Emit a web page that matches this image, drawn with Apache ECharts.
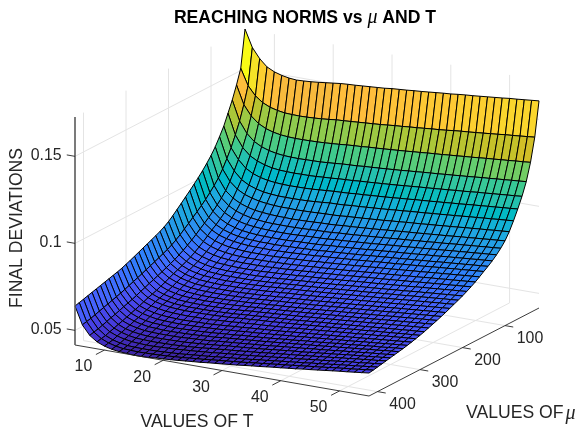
<!DOCTYPE html>
<html>
<head>
<meta charset="utf-8">
<style>html,body{margin:0;padding:0;background:#fff}#c{width:579px;height:430px}</style>
<script src="https://cdn.jsdelivr.net/npm/echarts@6/dist/echarts.min.js"></script>
</head>
<body>
<div id="c"></div>
<script>
const tValues=[5,6.25,7.5,8.75,10,11.25,12.5,13.75,15,16.25,17.5,18.75,20,21.25,22.5,23.75,25,26.25,27.5,28.75,30,31.25,32.5,33.75,35,36.25,37.5,38.75,40,41.25,42.5,43.75,45,46.25,47.5,48.75,50,51.25,52.5,53.75,55];
const muValues=[20,30,40,50,60,70,80,90,100,110,120,130,140,150,160,170,180,190,200,210,220,230,240,250,260,270,280,290,300,310,320,330,340,350,360,370,380,390,400,410,420];
const tTicks=[10,20,30,40,50];
const muTicks=[100,200,300,400];
const zTicks=[0.05,0.1,0.15];
const zTickLabels=['0.05','0.1','0.15'];
// final deviations, in units of 1e-4 (rows: mu, columns: T)
const deviationsE4=[
[1718,1619,1562,1522,1501,1488,1480,1476,1478,1481,1485,1490,1495,1500,1503,1505,1508,1511,1514,1517,1522,1525,1528,1532,1535,1539,1543,1547,1550,1555,1559,1562,1566,1570,1574,1578,1583,1586,1590,1594,1598],
[1505,1412,1361,1329,1310,1299,1292,1290,1289,1290,1292,1295,1299,1304,1306,1309,1312,1315,1318,1321,1325,1329,1332,1336,1339,1343,1347,1350,1354,1359,1363,1366,1370,1374,1378,1382,1387,1390,1394,1398,1402],
[1422,1316,1258,1222,1200,1187,1179,1175,1173,1173,1174,1175,1177,1180,1183,1187,1190,1192,1196,1198,1201,1204,1207,1210,1214,1217,1221,1224,1227,1231,1234,1238,1241,1245,1249,1252,1256,1259,1263,1266,1270],
[1348,1234,1170,1131,1108,1094,1085,1080,1078,1077,1078,1079,1080,1083,1086,1090,1092,1094,1098,1100,1103,1106,1109,1112,1116,1119,1123,1126,1129,1133,1136,1140,1143,1147,1151,1154,1158,1161,1165,1168,1172],
[1285,1167,1102,1062,1039,1024,1014,1009,1007,1006,1007,1007,1009,1012,1014,1018,1020,1022,1026,1028,1031,1034,1037,1040,1044,1047,1051,1054,1057,1061,1064,1068,1071,1075,1079,1082,1086,1089,1093,1096,1100],
[1223,1106,1045,1003,979,964,955,950,947,946,947,947,949,952,955,958,960,962,966,968,971,974,977,980,984,987,991,994,997,1001,1004,1008,1011,1015,1019,1022,1026,1029,1033,1036,1040],
[1175,1056,993,950,926,911,901,896,893,892,892,893,894,897,900,904,905,907,911,913,916,919,922,925,929,932,936,939,942,946,949,953,956,960,964,967,971,974,978,981,985],
[1130,1009,945,908,885,871,861,855,851,849,849,848,849,850,852,854,855,857,861,863,866,869,872,875,879,882,886,889,892,896,899,903,906,910,914,917,921,924,928,931,935],
[1092,970,905,869,846,831,821,816,812,810,809,808,809,810,812,814,815,817,821,823,826,829,832,835,839,842,846,849,852,856,859,863,866,870,874,877,881,884,888,891,895],
[1060,939,875,838,815,801,791,785,781,779,779,778,779,780,782,784,785,787,791,793,796,799,802,805,809,812,816,819,822,826,829,833,836,840,844,847,851,854,858,861,865],
[1030,911,848,811,789,775,765,760,756,754,753,753,753,755,757,759,760,762,766,768,771,774,777,780,784,787,791,794,797,801,804,808,811,815,819,822,826,829,833,836,840],
[1003,885,824,788,766,752,742,737,733,731,731,731,731,733,735,736,738,740,744,746,749,752,755,758,762,765,769,772,775,779,782,786,789,793,797,800,804,807,811,814,818],
[978,862,801,767,746,732,722,717,714,712,712,711,712,714,715,717,719,721,725,727,730,733,736,739,743,746,750,753,756,760,763,767,770,774,778,781,785,788,792,795,799],
[953,840,781,749,727,714,705,700,696,695,694,694,695,696,698,700,702,704,708,710,713,716,719,722,726,729,733,736,739,743,746,750,753,757,761,764,768,771,775,778,782],
[930,819,761,728,707,694,685,681,677,676,676,675,676,678,680,682,684,686,690,692,695,698,701,704,708,711,715,718,721,725,728,732,735,739,743,746,750,753,757,760,764],
[906,798,741,708,688,675,667,662,659,658,658,658,659,661,662,664,667,669,673,675,678,681,684,687,691,694,698,701,704,708,711,715,718,722,726,729,733,736,740,743,747],
[883,778,722,689,670,658,650,646,643,642,642,642,643,645,647,649,652,654,658,660,663,666,669,672,676,679,683,686,689,693,696,700,703,707,711,714,718,721,725,728,732],
[860,758,705,672,654,642,634,631,628,627,627,627,628,631,633,635,638,640,644,646,649,652,655,658,662,665,669,672,675,679,682,686,689,693,697,700,704,707,711,714,718],
[839,740,688,657,639,628,620,617,614,614,614,614,615,617,619,621,625,627,631,633,636,639,642,645,649,652,656,659,662,666,669,673,676,680,684,687,691,694,698,701,705],
[822,724,674,645,627,616,608,605,602,602,602,602,603,605,607,609,613,615,619,621,624,627,630,633,637,640,644,647,650,654,657,661,664,668,672,675,679,682,686,689,693],
[808,711,661,633,615,604,597,594,591,590,591,591,592,594,596,598,602,604,608,610,613,616,619,622,626,629,633,636,639,643,646,650,653,657,661,664,668,671,675,678,682],
[796,700,650,622,604,593,586,583,580,579,580,580,581,583,585,587,591,593,597,599,602,605,608,611,615,618,622,625,628,632,635,639,642,646,650,653,657,660,664,667,671],
[785,689,639,612,594,583,575,572,569,569,569,569,570,572,574,576,580,582,586,588,591,594,597,600,604,607,611,614,617,621,624,628,631,635,639,642,646,649,653,656,660],
[774,678,628,600,583,572,565,561,559,558,558,559,560,562,564,566,570,572,576,578,581,584,587,590,594,597,601,604,607,611,614,618,621,625,629,632,636,639,643,646,650],
[763,668,618,588,571,561,554,551,548,548,548,548,550,552,554,556,560,562,566,568,571,574,577,580,584,587,591,594,597,601,604,608,611,615,619,622,626,629,633,636,640],
[752,658,608,578,561,551,544,541,539,538,539,539,540,542,545,547,551,553,557,559,562,565,568,571,575,578,582,585,588,592,595,599,602,606,610,613,617,620,624,627,631],
[741,647,599,567,551,541,534,531,529,529,529,530,531,533,535,538,542,544,548,550,553,556,559,562,566,569,573,576,579,583,586,590,593,597,601,604,608,611,615,618,622],
[730,637,588,558,542,532,525,522,520,520,520,521,522,524,526,529,533,535,539,541,544,547,550,553,557,560,564,567,570,574,577,581,584,588,592,595,599,602,606,609,613],
[720,628,579,550,534,524,517,514,512,512,512,513,514,516,518,521,525,527,531,533,536,539,542,545,549,552,556,559,562,566,569,573,576,580,584,587,591,594,598,601,605],
[710,618,568,539,523,514,507,504,502,501,502,502,503,506,509,511,515,517,521,523,526,529,532,535,540,543,547,550,554,558,561,565,568,572,576,579,584,587,591,594,598],
[702,608,558,529,513,503,496,493,491,490,491,492,493,495,498,501,505,507,511,514,517,520,523,527,531,534,538,542,545,549,552,557,560,564,568,572,576,579,583,587,591],
[695,599,550,520,504,494,486,484,482,481,482,483,485,487,489,492,496,498,503,505,508,512,515,519,523,526,531,534,538,542,545,550,553,557,562,565,569,573,577,581,585],
[688,591,541,511,494,483,477,475,472,471,472,474,475,477,480,483,487,489,494,497,500,503,507,511,515,518,523,527,530,534,538,543,546,550,555,559,563,566,571,575,579],
[681,583,532,502,486,475,468,466,463,463,464,465,467,469,472,474,479,482,486,489,493,496,500,504,508,512,516,520,524,528,532,537,540,545,549,553,558,561,566,570,574],
[674,575,523,493,476,466,459,456,455,455,455,456,459,461,463,466,471,474,478,481,485,489,492,496,501,505,509,513,517,522,525,530,534,539,543,547,552,556,560,564,569],
[667,567,516,485,467,457,450,447,446,446,447,448,449,452,455,458,463,466,471,474,477,481,485,489,494,498,503,507,510,515,519,524,528,533,538,542,546,550,555,559,564],
[660,559,507,476,459,448,441,439,437,437,438,439,441,444,447,450,455,458,463,466,470,474,478,482,487,491,496,500,504,509,513,518,522,527,532,536,541,545,550,554,559],
[653,551,498,468,451,440,433,430,428,428,430,432,434,437,440,443,447,450,455,459,463,466,471,475,480,484,489,494,497,502,507,512,516,521,526,531,536,539,545,549,554],
[646,543,490,459,441,430,423,421,420,420,421,423,425,428,431,435,439,442,447,451,455,459,463,468,473,477,482,487,491,496,500,506,510,515,520,525,530,534,539,544,549],
[639,537,484,454,436,425,418,416,414,415,416,418,420,423,426,430,434,437,442,446,450,454,458,463,468,472,477,482,486,491,495,501,505,510,515,520,525,529,534,539,544],
[632,531,478,448,431,420,414,411,408,408,410,414,416,419,422,426,430,433,438,442,446,450,454,459,464,468,473,478,482,487,491,497,501,506,511,516,521,525,530,535,540]
];
const parula=[[.2422,.1504,.6603],[.2504,.165,.7076],[.2578,.1818,.7511],[.2647,.1978,.7952],[.2706,.2147,.8364],[.2751,.2342,.871],[.2783,.2559,.8991],[.2803,.2782,.9221],[.2813,.3006,.9414],[.281,.3228,.9579],[.2795,.3447,.9717],[.276,.3667,.9829],[.2699,.3892,.9906],[.2602,.4123,.9952],[.244,.4358,.9988],[.2206,.4603,.9973],[.1963,.4847,.9892],[.1834,.5074,.9798],[.1786,.5289,.9682],[.1764,.5499,.952],[.1687,.5703,.9359],[.154,.5902,.9218],[.146,.6091,.9079],[.138,.6276,.8973],[.1248,.6459,.8883],[.1113,.6635,.8763],[.0952,.6798,.8598],[.0689,.6948,.8394],[.0297,.7082,.8163],[.0036,.7203,.7917],[.0067,.7312,.766],[.0433,.7411,.7394],[.0964,.75,.712],[.1408,.7584,.6842],[.1717,.767,.6554],[.1938,.7758,.6251],[.2161,.7843,.5923],[.247,.7918,.5567],[.2906,.7973,.5188],[.3406,.8008,.4789],[.3909,.8029,.4354],[.4456,.8024,.3909],[.5044,.7993,.348],[.5616,.7942,.3045],[.6174,.7876,.2612],[.672,.7793,.2227],[.7242,.7698,.191],[.7738,.7598,.1646],[.8203,.7498,.1535],[.8634,.7406,.1596],[.9035,.733,.1774],[.9393,.7288,.21],[.9728,.7298,.2394],[.9956,.7434,.2371],[.997,.7659,.2199],[.9952,.7893,.2028],[.9892,.8136,.1885],[.9786,.8386,.1766],[.9676,.8639,.1643],[.961,.889,.1537],[.9597,.9135,.1423],[.9628,.9373,.1265],[.9691,.9606,.1064],[.9769,.9839,.0805]];

// box of the 3D axes on the page
const corner={frontLeft:[75,345],front:[369,396],right:[539,308]},boxHeight=228;
const READ_OFFSET=8; // calibration of the read values against the z ticks, 1e-4 units
const zOf=(i,j)=>(deviationsE4[i][j]+READ_OFFSET)*1e-4;
let zMin=Infinity,zMax=-Infinity;
deviationsE4.forEach((r,i)=>r.forEach((v,j)=>{const z=zOf(i,j);if(z<zMin)zMin=z;if(z>zMax)zMax=z;}));
const tMin=tValues[0],tMax=tValues[tValues.length-1],muMin=muValues[0],muMax=muValues[muValues.length-1];
function project(t,mu,z){
  const a=(t-tMin)/(tMax-tMin),b=(muMax-mu)/(muMax-muMin),c=(z-zMin)/(zMax-zMin);
  const [x0,y0]=corner.frontLeft,[x1,y1]=corner.front,[x2,y2]=corner.right;
  return [x0+a*(x1-x0)+b*(x2-x1),y0+a*(y1-y0)+b*(y2-y1)-c*boxHeight];
}
function faceColor(z){
  const k=Math.min(63,Math.max(0,Math.floor((z-zMin)/(zMax-zMin)*64)));
  const p=parula[k];
  return 'rgb('+p.map(v=>Math.round(v*255)).join(',')+')';
}
// face list, far to near
const faces=[];
for(let i=0;i<muValues.length-1;i++)for(let j=0;j<tValues.length-1;j++)faces.push([i,j]);

// back walls and floor
const wallLines=[];
tTicks.forEach(t=>{
  wallLines.push([project(t,muMin,zMin),project(t,muMin,zMax)]);
  wallLines.push([project(t,muMin,zMin),project(t,muMax,zMin)]);
});
muTicks.forEach(m=>{
  wallLines.push([project(tMin,m,zMin),project(tMin,m,zMax)]);
  wallLines.push([project(tMin,m,zMin),project(tMax,m,zMin)]);
});
zTicks.forEach(z=>{
  wallLines.push([project(tMin,muMax,z),project(tMin,muMin,z)]);
  wallLines.push([project(tMin,muMin,z),project(tMax,muMin,z)]);
});
// axis lines and ticks
const tickT=(tMax-tMin)*0.028,tickMu=(muMax-muMin)*0.05;
const axisLines=[
  [project(tMin,muMax,zMin),project(tMax,muMax,zMin),'#262626',.9],
  [project(tMax,muMax,zMin),project(tMax,muMin,zMin),'#262626',.9],
  [project(tMin,muMax,zMin),project(tMin,muMax,zMax),'#5a5a5a',1.6]
];
tTicks.forEach(t=>axisLines.push([project(t,muMax,zMin),project(t,muMax+tickMu,zMin),'#262626',.9]));
muTicks.forEach(m=>axisLines.push([project(tMax,m,zMin),project(tMax+tickT,m,zMin),'#262626',.9]));
zTicks.forEach(z=>axisLines.push([project(tMin,muMax,z),project(tMin-tickT,muMax,z),'#262626',.9]));

const tickFont={fontSize:15.9,fontFamily:'Liberation Sans',fill:'#262626'};
const labelFont={fontSize:17.6,fontFamily:'Liberation Sans',fill:'#262626'};
const texts=[];
tTicks.forEach(t=>{const p=project(t,muMax,zMin);texts.push({type:'text',x:p[0]-21,y:p[1]+17,style:Object.assign({text:String(t),align:'center',verticalAlign:'middle'},tickFont)});});
muTicks.forEach(m=>{const p=project(tMax,m,zMin);texts.push({type:'text',x:p[0]+25,y:p[1]+13,style:Object.assign({text:String(m),align:'center',verticalAlign:'middle'},tickFont)});});
zTicks.forEach((z,k)=>{const p=project(tMin,muMax,z);texts.push({type:'text',x:p[0]-13.3,y:p[1]-1,style:Object.assign({text:zTickLabels[k],align:'right',verticalAlign:'middle'},tickFont)});});
texts.push({type:'text',x:197,y:422,style:Object.assign({text:'VALUES OF T',align:'center',verticalAlign:'middle'},labelFont)});
texts.push({type:'text',x:466,y:413,style:Object.assign({text:'VALUES OF',align:'left',verticalAlign:'middle'},labelFont)});
texts.push({type:'text',x:565.5,y:414,style:{text:'μ',align:'left',verticalAlign:'middle',fontSize:20,fontStyle:'italic',fontFamily:'Liberation Serif',fill:'#262626'}});
texts.push({type:'text',x:17,y:228,rotation:Math.PI/2,style:Object.assign({text:'FINAL DEVIATIONS',align:'center',verticalAlign:'middle'},labelFont)});

const lineSeries=(data,z)=>({
  type:'custom',coordinateSystem:'none',silent:true,animation:false,z:z,clip:false,progressive:0,
  data:data.map((_,k)=>[k]),
  renderItem:(p,api)=>{const l=data[api.value(0)];
    return {type:'line',shape:{x1:l[0][0],y1:l[0][1],x2:l[1][0],y2:l[1][1]},
      style:{stroke:l[2]||'#e4e4e4',lineWidth:l[3]||1,fill:null}};}
});
const chart=echarts.init(document.getElementById('c'),null,{renderer:'canvas'});
chart.setOption({
  animation:false,
  backgroundColor:'#fff',
  title:{text:'REACHING NORMS vs {mu|μ} AND T',left:300,top:3,textAlign:'center',
    textStyle:{fontSize:17.6,fontWeight:'bold',fontFamily:'Liberation Sans',color:'#000',
      rich:{mu:{fontSize:20,fontStyle:'italic',fontWeight:'normal',fontFamily:'Liberation Serif',color:'#000'}}}},
  graphic:{elements:texts},
  series:[
    lineSeries(wallLines,1),
    {type:'custom',coordinateSystem:'none',silent:true,animation:false,z:2,clip:false,progressive:0,
     data:faces,
     renderItem:(p,api)=>{
       const i=api.value(0),j=api.value(1);
       const pts=[[i,j],[i,j+1],[i+1,j+1],[i+1,j]].map(q=>project(tValues[q[1]],muValues[q[0]],zOf(q[0],q[1])));
       return {type:'polygon',shape:{points:pts},style:{fill:faceColor(zOf(i,j)),stroke:'#000',lineWidth:1,lineJoin:'round'}};
     }},
    lineSeries(axisLines,3)
  ]
});
</script>
</body>
</html>
